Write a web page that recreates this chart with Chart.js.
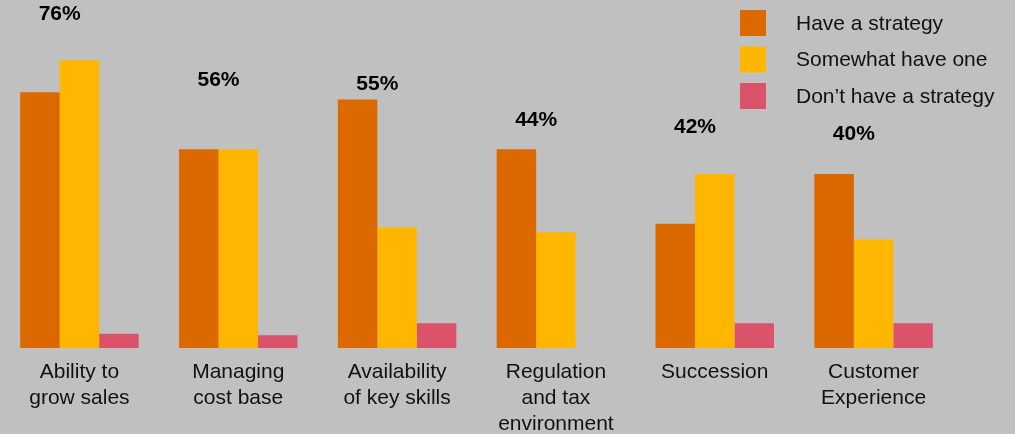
<!DOCTYPE html>
<html>
<head>
<meta charset="utf-8">
<script src="https://cdn.jsdelivr.net/npm/chart.js@4.4.1/dist/chart.umd.min.js"></script>
<style>
  html, body { margin: 0; padding: 0; background: #c0c0c0; }
  #wrap { width: 1015px; height: 434px; position: relative; }
</style>
</head>
<body>
<div id="wrap"><canvas id="c"></canvas></div>
<script>
// ---- data ----
const categories = [
  ['Ability to', 'grow sales'],
  ['Managing', 'cost base'],
  ['Availability', 'of key skills'],
  ['Regulation', 'and tax', 'environment'],
  ['Succession'],
  ['Customer', 'Experience']
];
const seriesNames = ['Have a strategy', 'Somewhat have one', 'Don\u2019t have a strategy'];
const haveStrategy = [36, 28, 35, 28, 17.5, 24.5];
const somewhatHave = [40.5, 28, 17, 16.3, 24.5, 15.3];
const dontHave = [2, 1.8, 3.5, null, 3.5, 3.5];
const groupTotals = [76, 56, 55, 44, 42, 40];

const colors = ['#dc6900', '#ffb600', '#db536a'];
const FONT = "'Liberation Sans', Arial, sans-serif";

// total labels drawn above the orange/yellow pair, positioned on a hidden scale
const totalsPlugin = {
  id: 'totals',
  afterDatasetsDraw(chart) {
    const ctx = chart.ctx;
    const m0 = chart.getDatasetMeta(0).data;
    const m1 = chart.getDatasetMeta(1).data;
    const sc = chart.scales.yLab;
    ctx.save();
    ctx.font = 'bold 21px ' + FONT;
    ctx.fillStyle = '#000';
    ctx.textAlign = 'center';
    ctx.textBaseline = 'middle';
    groupTotals.forEach((v, i) => {
      const x = (m0[i].x + m1[i].x) / 2;
      const y = sc.getPixelForValue(v);
      ctx.fillText(v + '%', x, y);
    });
    ctx.restore();
  }
};

// vertical legend in the top-right corner
const cornerLegend = {
  id: 'cornerLegend',
  afterDraw(chart, args, opts) {
    const ctx = chart.ctx;
    ctx.save();
    ctx.font = '21px ' + FONT;
    ctx.textAlign = 'left';
    ctx.textBaseline = 'middle';
    chart.data.datasets.forEach((ds, i) => {
      const top = opts.y + i * opts.rowGap;
      ctx.fillStyle = ds.backgroundColor;
      ctx.fillRect(opts.x, top, opts.box, opts.box);
      ctx.fillStyle = '#111';
      ctx.fillText(ds.label, opts.textX, top + opts.box / 2 + 1);
    });
    ctx.restore();
  }
};

new Chart(document.getElementById('c'), {
  type: 'bar',
  data: {
    labels: categories,
    datasets: [
      { label: seriesNames[0], data: haveStrategy, backgroundColor: colors[0] },
      { label: seriesNames[1], data: somewhatHave, backgroundColor: colors[1] },
      { label: seriesNames[2], data: dontHave, backgroundColor: colors[2] }
    ]
  },
  options: {
    responsive: true,
    maintainAspectRatio: false,
    animation: false,
    layout: { padding: { left: 0, right: 62, top: 0, bottom: 0 } },
    datasets: { bar: { categoryPercentage: 0.746, barPercentage: 1.0, borderWidth: 0 } },
    scales: {
      x: {
        grid: { display: false, drawTicks: false },
        border: { display: false },
        ticks: {
          color: '#111',
          font: { family: FONT, size: 21, lineHeight: 1.24 },
          padding: 11,
          maxRotation: 0,
          autoSkip: false
        },
        afterFit(scale) { scale.height = 86; }
      },
      y: { display: false, min: 0, max: 49 },
      yLab: { display: false, min: -24.3, max: 80.2 }
    },
    plugins: {
      legend: { display: false },
      tooltip: { enabled: false },
      cornerLegend: { x: 740, y: 10, box: 26, rowGap: 36.5, textX: 796 }
    }
  },
  plugins: [totalsPlugin, cornerLegend]
});
</script>
</body>
</html>
